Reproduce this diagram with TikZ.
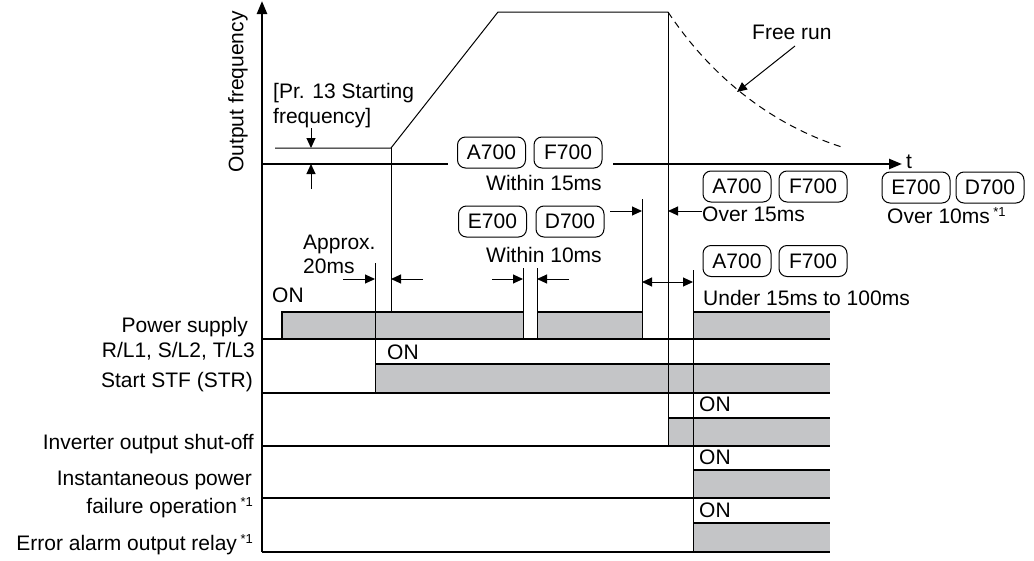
\documentclass[tikz,border=0pt]{standalone}
\usepackage{fontspec}
\setmainfont{Liberation Sans}
\usetikzlibrary{arrows.meta}
\definecolor{siggray}{RGB}{196,197,199}
\newcommand{\starone}{\,{\fontsize{13}{14}\selectfont\raisebox{7pt}{*1}}}
\begin{document}
\begin{tikzpicture}[x=1pt,y=-1pt,
  thickline/.style={line width=2.4pt},
  thinline/.style={line width=1pt},
  edgeline/.style={line width=1.4pt},
  tipr/.style={-{Triangle[length=10pt,width=9pt]}},
  axistip/.style={-{Triangle[length=13pt,width=10pt]}},
  txt/.style={font=\fontsize{21}{24}\selectfont, inner sep=0pt},
  model/.style={draw, line width=1pt, rounded corners=8pt, minimum width=68pt,
    minimum height=31pt, inner sep=0pt, font=\fontsize{21}{24}\selectfont}]
\useasboundingbox (0,0) rectangle (1034,560);

% ---------- axes ----------
\coordinate (yo) at (262,552);
\coordinate (ytop) at (262,1);
\draw[thickline, axistip] (yo) -- (ytop);
\coordinate (t0) at (262,164);
\coordinate (t1) at (448,164);
\coordinate (t2) at (613,164);
\coordinate (t3) at (902,164);
\draw[thickline] (t0) -- (t1);
\draw[thickline, axistip] (t2) -- (t3);
\node[txt, anchor=base west] (tl) at (906,168) {t};
\node[txt, rotate=90] (yl) at (238,92) {Output frequency};

% ---------- frequency curve ----------
\coordinate (sf0) at (275,148);
\coordinate (sf1) at (391,148);
\coordinate (top0) at (498,12);
\coordinate (top1) at (668,12);
\coordinate (fr) at (845,148);
\draw[thinline] (sf0) -- (sf1) -- (top0) -- (top1);
\draw[thinline, dashed, dash pattern=on 7pt off 5pt] (top1) .. controls (710,75) and (770,125) .. (fr);
\node[txt, anchor=base west] (free) at (752,39) {Free run};
\coordinate (frs) at (795,46);
\coordinate (frt) at (737,92);
\draw[thinline, tipr] (frs) -- (frt);

% starting frequency
\node[txt, anchor=base west] (pr1) at (273,98) {[Pr. 13 Starting};
\node[txt, anchor=base west] (pr2) at (273,123) {frequency]};
\draw[thinline, tipr] (311,128) -- (311,148);
\draw[thinline, tipr] (311,189) -- (311,164);

% ---------- model tags ----------
\node[model] (a1) at (491.5,152.5) {A700};
\node[model] (f1) at (568,152.5) {F700};
\node[txt, anchor=base west] (w15) at (486,190) {Within 15ms};
\node[model] (e2) at (492.5,221.5) {E700};
\node[model] (d2) at (570,221.5) {D700};
\node[txt, anchor=base west] (w10) at (486,262) {Within 10ms};
\node[model] (a3) at (737,186.5) {A700};
\node[model] (f3) at (813,186.5) {F700};
\node[txt, anchor=base west] (o15) at (702,221) {Over 15ms};
\node[model] (e4) at (916,187.5) {E700};
\node[model] (d4) at (990,187.5) {D700};
\node[txt, anchor=base west] (o10) at (887,223) {Over 10ms\starone};
\node[model] (a5) at (737,261) {A700};
\node[model] (f5) at (813,261) {F700};
\node[txt, anchor=base west] (u15) at (703,305) {Under 15ms to 100ms};
\node[txt, anchor=base west] (ap1) at (303,249) {Approx.};
\node[txt, anchor=base west] (ap2) at (303,273) {20ms};

% ---------- signal boxes ----------
\fill[siggray] (282,312) rectangle (523,339);
\fill[siggray] (537,312) rectangle (642,339);
\fill[siggray] (693,312) rectangle (830,339);
\fill[siggray] (375,364) rectangle (830,393);
\fill[siggray] (668,418) rectangle (830,446);
\fill[siggray] (693,470) rectangle (830,498);
\fill[siggray] (693,523) rectangle (830,552);
\draw[edgeline] (282,339) -- (282,312) -- (523,312);
\draw[edgeline] (537,312) -- (642,312);
\draw[edgeline] (693,312) -- (830,312);
\draw[edgeline] (375,364) -- (830,364);
\draw[edgeline] (668,418) -- (830,418);
\draw[edgeline] (693,470) -- (830,470);
\draw[edgeline] (693,523) -- (830,523);

% baselines
\foreach \y in {339,393,446,498,552} \draw[thickline] (262,\y) -- (830,\y);

% ---------- marker lines ----------
\draw[thinline] (sf1) -- (391,312);
\draw[thinline] (375,263) -- (375,393);
\draw[thinline] (523,268) -- (523,339);
\draw[thinline] (537,268) -- (537,339);
\draw[thinline] (642,199) -- (642,339);
\draw[thinline] (top1) -- (668,446);
\draw[thinline] (693,270) -- (693,552);

% ---------- dimension arrows ----------
\draw[thinline, tipr] (343,279) -- (375,279);
\draw[thinline, tipr] (423,279) -- (391,279);
\draw[thinline, tipr] (492,279) -- (523,279);
\draw[thinline, tipr] (569,279) -- (537,279);
\draw[thinline, tipr] (610,211) -- (642,211);
\draw[thinline, tipr] (702,211) -- (668,211);
\draw[thinline, {Triangle[length=10pt,width=9pt]}-{Triangle[length=10pt,width=9pt]}] (642,282) -- (693,282);

% ---------- ON labels ----------
\node[txt, anchor=base west] (on1) at (272,302) {ON};
\node[txt, anchor=base west] (on2) at (387,359) {ON};
\node[txt, anchor=base west] (on3) at (699,411) {ON};
\node[txt, anchor=base west] (on4) at (699,464) {ON};
\node[txt, anchor=base west] (on5) at (699,517) {ON};

% ---------- signal names ----------
\node[txt, anchor=base east] (n1) at (248,332) {Power supply};
\node[txt, anchor=base east] (n2) at (255,357) {R/L1, S/L2, T/L3};
\node[txt, anchor=base east] (n3) at (253,387) {Start STF (STR)};
\node[txt, anchor=base east] (n4) at (254,449) {Inverter output shut-off};
\node[txt, anchor=base east] (n5) at (252,485) {Instantaneous power};
\node[txt, anchor=base east] (n6) at (253,513) {failure operation\starone};
\node[txt, anchor=base east] (n7) at (253,550) {Error alarm output relay\starone};
\end{tikzpicture}
\end{document}
